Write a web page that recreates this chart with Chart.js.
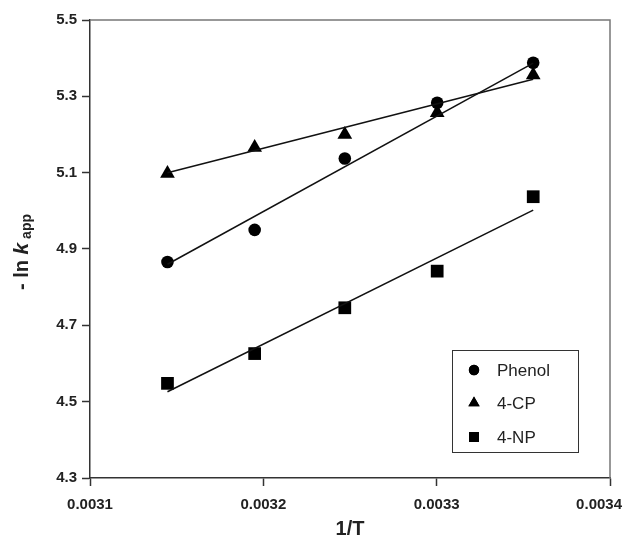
<!DOCTYPE html>
<html>
<head>
<meta charset="utf-8">
<script src="https://cdn.jsdelivr.net/npm/chart.js@4.4.1/dist/chart.umd.min.js"></script>
<style>
html,body{margin:0;padding:0;background:#fff;}
#wrap{width:624px;height:541px;position:relative;}
</style>
</head>
<body>
<div id="wrap"><canvas id="c" width="624" height="541"></canvas></div>
<script>
// ---- data ----
const invT = [0.0031447, 0.003195, 0.003247, 0.0033003, 0.0033557];
const phenol = [4.866, 4.950, 5.137, 5.283, 5.388];
const cp4 = [5.098, 5.166, 5.200, 5.257, 5.356];
const np4 = [4.548, 4.626, 4.746, 4.842, 5.037];
// fitted-line end points
const fitX = [0.0031447, 0.0033557];
const phenolFit = [4.860, 5.387];
const cp4Fit = [5.100, 5.345];
const np4Fit = [4.526, 5.002];
// axis ticks
const xTicks = [0.0031, 0.0032, 0.0033, 0.0034];
const yTicks = [4.3, 4.5, 4.7, 4.9, 5.1, 5.3, 5.5];
const seriesNames = ['Phenol', '4-CP', '4-NP'];

const pts = (xs, ys) => xs.map((x, i) => ({x: x, y: ys[i]}));

const markerDs = (label, ys, style, r) => ({
  label, data: pts(invT, ys), showLine: false,
  pointStyle: style, pointRadius: r, pointHoverRadius: r,
  backgroundColor: '#000', borderColor: '#000', borderWidth: 0
});
const lineDs = (label, ys) => ({
  label, data: pts(fitX, ys), showLine: true, pointRadius: 0,
  borderColor: '#111', borderWidth: 1.5, fill: false
});

const FONT = '"Liberation Sans", Arial, sans-serif';

const frame = {
  id: 'frame',
  beforeDatasetsDraw(chart) {
    const {ctx, chartArea: a} = chart;
    ctx.save();
    ctx.strokeStyle = '#777';
    ctx.lineWidth = 1.5;
    ctx.beginPath();
    ctx.moveTo(a.left, a.top); ctx.lineTo(a.right, a.top); ctx.lineTo(a.right, a.bottom);
    ctx.stroke();
    ctx.restore();
  },
  afterDraw(chart) {
    const {ctx, chartArea: a} = chart;
    // x tick labels (kept inside the canvas)
    const xs = chart.scales.x;
    ctx.save();
    ctx.font = 'bold 15px ' + FONT;
    ctx.fillStyle = '#222';
    ctx.textBaseline = 'middle';
    ctx.textAlign = 'left';
    xTicks.forEach(v => {
      const t = v.toFixed(4);
      const w = ctx.measureText(t).width;
      let px = xs.getPixelForValue(v) - w / 2;
      if (px + w > chart.width - 2) px = chart.width - 2 - w;
      ctx.fillText(t, px, a.bottom + 27);
    });
    ctx.restore();

    // y axis title
    ctx.save();
    ctx.translate(28, 252);
    ctx.rotate(-Math.PI / 2);
    ctx.fillStyle = '#222';
    ctx.textBaseline = 'alphabetic';
    const f1 = 'bold 20px ' + FONT;
    const f2 = 'italic bold 21px ' + FONT;
    const f3 = 'bold 14px ' + FONT;
    ctx.font = f1; const w1 = ctx.measureText('- ln ').width;
    ctx.font = f2; const w2 = ctx.measureText('k').width;
    ctx.font = f3; const w3 = ctx.measureText(' app').width;
    let x = -(w1 + w2 + w3) / 2;
    ctx.font = f1; ctx.fillText('- ln ', x, 0); x += w1;
    ctx.font = f2; ctx.fillText('k', x, 0); x += w2;
    ctx.font = f3; ctx.fillText(' app', x, 3);
    ctx.restore();

    // legend box
    ctx.save();
    ctx.strokeStyle = '#333';
    ctx.lineWidth = 1;
    ctx.fillStyle = '#fff';
    ctx.fillRect(452, 350, 126, 102);
    ctx.strokeRect(452.5, 350.5, 126, 102);
    const styles = ['circle', 'triangle', 'rect'];
    const radii = [5.2, 6.5, 7];
    const ys = [370, 403, 437];
    ctx.font = '17px ' + FONT;
    ctx.textBaseline = 'middle';
    for (let i = 0; i < 3; i++) {
      ctx.fillStyle = '#000';
      Chart.helpers.drawPoint(ctx, {pointStyle: styles[i], radius: radii[i], borderWidth: 0}, 474, ys[i]);
      ctx.fill();
      ctx.fillStyle = '#222';
      ctx.fillText(seriesNames[i], 497, ys[i] + 1);
    }
    ctx.restore();
  }
};

new Chart(document.getElementById('c'), {
  type: 'scatter',
  data: {
    datasets: [
      lineDs('Phenol fit', phenolFit),
      lineDs('4-CP fit', cp4Fit),
      lineDs('4-NP fit', np4Fit),
      markerDs(seriesNames[0], phenol, 'circle', 6.3),
      markerDs(seriesNames[1], cp4, 'triangle', 8.5),
      markerDs(seriesNames[2], np4, 'rect', 9)
    ]
  },
  options: {
    responsive: false,
    animation: false,
    layout: {padding: {top: 20, right: 14, left: 0, bottom: 0}},
    plugins: {legend: {display: false}, tooltip: {enabled: false}},
    scales: {
      x: {
        type: 'linear', min: 0.0031, max: 0.0034,
        afterBuildTicks: s => { s.ticks = xTicks.map(v => ({value: v})); },
        afterFit: s => { s.height = 63; s.paddingLeft = 0; s.paddingRight = 0; },
        grid: {drawOnChartArea: false, drawTicks: true, tickLength: 8, tickColor: '#333', tickWidth: 1.5},
        border: {display: true, color: '#333', width: 1.5},
        ticks: {display: false},
        title: {
          display: true, text: '1/T', color: '#222', padding: {top: 4, bottom: 0},
          font: {family: FONT, size: 20, weight: 'bold'}
        }
      },
      y: {
        type: 'linear', min: 4.3, max: 5.5,
        afterBuildTicks: s => { s.ticks = yTicks.map(v => ({value: v})); },
        afterFit: s => { s.width = 90; },
        grid: {drawOnChartArea: false, drawTicks: true, tickLength: 8, tickColor: '#333', tickWidth: 1.5},
        border: {display: true, color: '#333', width: 1.5},
        ticks: {
          color: '#222', padding: 5,
          font: {family: FONT, size: 15, weight: 'bold'},
          callback: v => Number(v).toFixed(1)
        }
      }
    }
  },
  plugins: [frame]
});
</script>
</body>
</html>
